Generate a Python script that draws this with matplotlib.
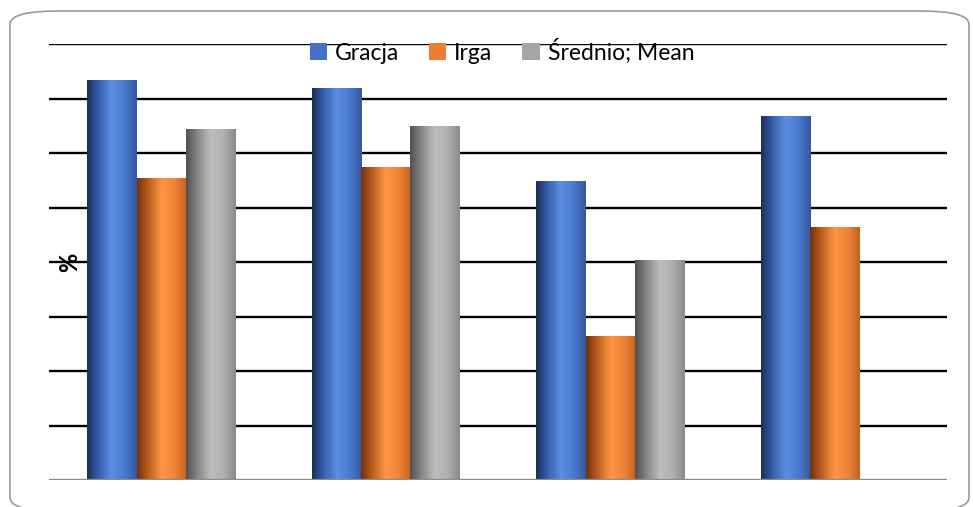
import numpy as np
import matplotlib
matplotlib.use("Agg")
import matplotlib.pyplot as plt
from matplotlib.colors import LinearSegmentedColormap
from matplotlib.patches import FancyBboxPatch
from matplotlib.patches import Patch

plt.rcParams['font.family'] = ['Lato', 'DejaVu Sans']

groups = ["1", "2", "3", "4"]
series_names = ["Gracja", "Irga", "Średnio; Mean"]
gracja = [73.4, 71.9, 54.9, 66.8]
irga = [55.4, 57.4, 26.4, 46.4]
mean = [64.4, 65.0, 40.4, np.nan]

legend_colors = ["#4472c4", "#ed7d31", "#a5a5a5"]
# left edge -> highlight -> right edge, a cylinder-like shading
shades = [
    ["#1b2d58", "#3a62b0", "#5a8ee2", "#4a7bd0", "#35589e"],
    ["#6e3210", "#c2621f", "#ff9545", "#f0853a", "#c4601c"],
    ["#505050", "#8a8a8a", "#bdbdbd", "#b0b0b0", "#8a8a8a"],
]

fig = plt.figure(figsize=(9.73, 5.07), dpi=100)
frame = FancyBboxPatch((10 / 973, -4 / 507), 959 / 973, 500 / 507,
                       boxstyle="round,pad=0,rounding_size=0.05",
                       transform=fig.transFigure, facecolor="white",
                       edgecolor="#9a9a9a", linewidth=1.2,
                       mutation_aspect=507 / 973, zorder=-1)
fig.patches.append(frame)

ax = fig.add_axes([49 / 973, 1 - 480 / 507, 898 / 973, 436 / 507])
ax.set_facecolor("none")

for y in range(10, 81, 10):
    ax.axhline(y, color="black", linewidth=1.7, zorder=1)
ax.axhline(0, color="#8c8c8c", linewidth=2.4, zorder=4)

x = np.arange(len(groups))
width = 0.22
grad = np.linspace(0, 1, 256).reshape(1, -1)
for i, (vals, cols) in enumerate(zip([gracja, irga, mean], shades)):
    cmap = LinearSegmentedColormap.from_list(f"s{i}", cols)
    bars = ax.bar(x + (i - 1) * width, vals, width, facecolor="none",
                  edgecolor="none", zorder=2)
    for b in bars:
        h = b.get_height()
        if np.isnan(h):
            continue
        x0 = b.get_x()
        im = ax.imshow(grad, cmap=cmap, aspect="auto", zorder=2,
                       extent=(x0, x0 + b.get_width(), 0, h))
        im.set_clip_path(b)
ax.set_xlim(-0.5, len(groups) - 0.5)
ax.set_ylim(0, 80)

for s in ax.spines.values():
    s.set_visible(False)
ax.set_xticks([])
ax.set_yticks([])

ax.text(0.023, 0.5, "%", transform=ax.transAxes, rotation=90, fontsize=17,
        fontweight="bold", ha="center", va="center", zorder=5)

handles = [Patch(facecolor=c, edgecolor="none") for c in legend_colors]
fig.legend(handles, series_names, loc="center", bbox_to_anchor=(502 / 973, 1 - 51 / 507),
           ncol=3, frameon=False, fontsize=16.5, handlelength=0.75, handleheight=0.75,
           handletextpad=0.35, columnspacing=1.3, borderaxespad=0)

fig.savefig("out.png", dpi=100)
